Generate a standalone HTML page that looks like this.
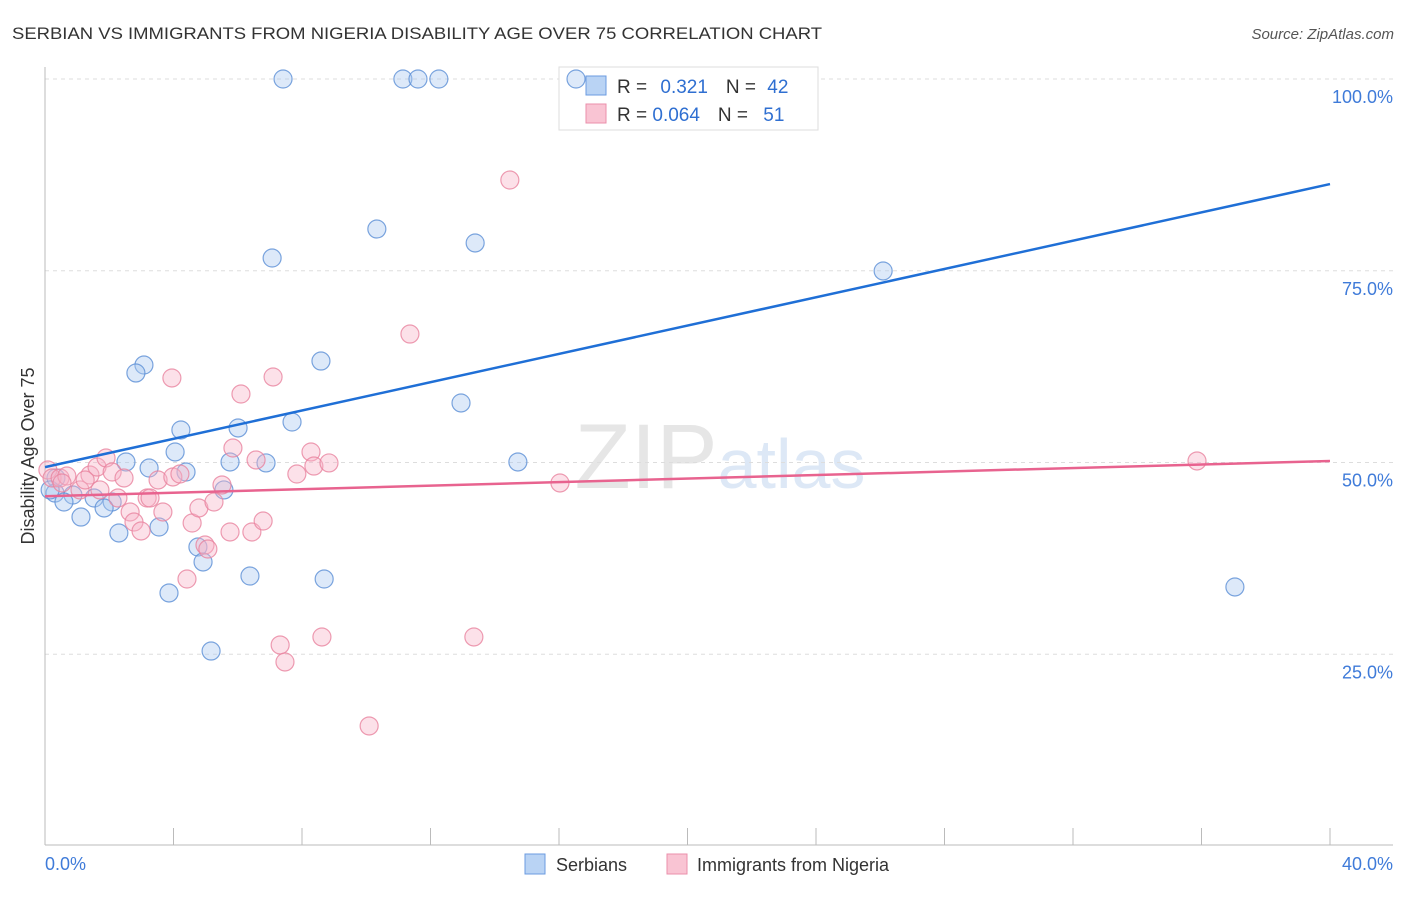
<!DOCTYPE html>
<html><head><meta charset="utf-8"><style>
body{margin:0;background:#fff;font-family:"Liberation Sans",sans-serif}
svg text{font-family:"Liberation Sans",sans-serif}
</style></head><body>
<svg id="c" width="1406" height="892">
<text x="12" y="39" font-size="17" fill="#333" textLength="810" lengthAdjust="spacingAndGlyphs">SERBIAN VS IMMIGRANTS FROM NIGERIA DISABILITY AGE OVER 75 CORRELATION CHART</text>
<text x="1394" y="39" font-size="15" fill="#555" text-anchor="end" font-style="italic">Source: ZipAtlas.com</text>
<text x="720" y="488" font-size="92" fill="#e6e6e6" text-anchor="middle" font-family="Liberation Serif">ZIP<tspan fill="#dde8f6" font-family="Liberation Sans" font-size="70">atlas</tspan></text>
<text transform="translate(34,456) rotate(-90)" font-size="18" fill="#333" text-anchor="middle">Disability Age Over 75</text>
<g id="grid"></g><g id="axes"></g>
<g>
<rect x="559" y="67" width="259" height="63" fill="#fff" stroke="#ddd"/>
<rect x="586" y="76" width="20" height="19" fill="#b9d3f4" stroke="#6b9be0"/>
<rect x="586" y="104" width="20" height="19" fill="#f9c4d3" stroke="#eb8fab"/>
<text x="617" y="93" font-size="19" fill="#333">R = <tspan fill="#2f6fd1" dx="8">0.321</tspan><tspan dx="18" fill="#333">N = </tspan><tspan fill="#2f6fd1" dx="6">42</tspan></text>
<text x="617" y="121" font-size="19" fill="#333">R = <tspan fill="#2f6fd1">0.064</tspan><tspan dx="18" fill="#333">N = </tspan><tspan fill="#2f6fd1" dx="10">51</tspan></text>
</g>
<g id="pts"></g><g id="lines"></g>
<g>
<rect x="525" y="854" width="20" height="20" fill="#b9d3f4" stroke="#6b9be0"/>
<text x="556" y="871" font-size="18" fill="#333">Serbians</text>
<rect x="667" y="854" width="20" height="20" fill="#f9c4d3" stroke="#eb8fab"/>
<text x="697" y="871" font-size="18" fill="#333">Immigrants from Nigeria</text>
</g>
</svg>
<script>
const yTicks=[25,50,75,100];
const yTickLabels=["25.0%","50.0%","75.0%","100.0%"];
const xTickLabels=["0.0%","40.0%"];
const blueX=[7.41,11.14,11.61,12.26,16.53,10.33,13.39,7.07,26.09,8.59,3.08,2.83,12.95,7.69,4.23,6.01,4.05,2.52,3.24,4.39,5.76,6.88,14.72,0.34,0.31,0.87,1.53,0.59,2.09,1.84,5.57,1.12,2.30,3.55,4.76,4.92,6.38,8.69,3.86,5.17,37.04,0.16];
const blueY=[100,100,100,100,100,80.44,78.62,76.66,74.97,63.23,62.71,61.67,57.76,55.28,54.24,54.50,51.37,50.07,49.28,48.76,50.07,49.94,50.07,47.98,46.02,45.76,45.37,44.85,44.85,44.07,46.42,42.89,40.81,41.59,38.98,37.03,35.20,34.81,32.99,25.42,33.77,46.42];
const pinkX=[0.09,0.22,0.47,0.68,1.40,1.62,1.90,2.09,2.46,1.71,2.27,3.18,3.27,2.65,2.77,2.99,3.67,3.52,3.98,4.20,4.58,4.79,5.26,5.51,4.98,5.07,5.76,6.44,6.79,6.10,5.85,6.57,7.84,8.28,8.37,8.84,3.95,7.10,4.42,7.32,7.47,8.62,13.35,10.09,11.36,14.47,16.03,35.86,0.53,1.09,1.25];
const pinkY=[49.02,47.98,47.98,48.24,48.37,49.41,50.59,48.76,47.98,46.42,45.37,45.37,45.37,43.55,42.24,41.07,43.55,47.72,48.11,48.50,42.11,44.07,44.85,47.07,39.24,38.72,40.94,40.94,42.37,58.93,51.89,50.33,48.50,51.37,49.54,49.94,61.02,61.15,34.81,26.21,23.99,27.25,27.25,15.65,66.75,86.83,47.33,50.20,47.33,46.42,47.72];
const blueTrend=[49.4,86.3];
const pinkTrend=[45.6,50.2];
const NS="http://www.w3.org/2000/svg";
const sx=v=>45+v/40*1285, sy=v=>846-v/100*767;
function mk(t,a,p){const e=document.createElementNS(NS,t);for(const k in a)e.setAttribute(k,a[k]);p.appendChild(e);return e;}
const grid=document.getElementById('grid'),axes=document.getElementById('axes'),pts=document.getElementById('pts'),lines=document.getElementById('lines');
yTicks.forEach((t,i)=>{
 const l=mk('line',{x1:45,x2:1393,y1:sy(t),y2:sy(t),stroke:'#ddd','stroke-dasharray':'4,4'},grid);
 
 
 const tx=mk('text',{x:1393,y:sy(t)+24,'font-size':18,fill:'#3f7bd9','text-anchor':'end'},axes);
 tx.textContent=yTickLabels[i];
 
 
});
const ax=mk('line',{x1:45,x2:1393,y1:845,y2:845,stroke:'#bbb'},axes);


const ay=mk('line',{x1:45,x2:45,y1:67,y2:845,stroke:'#bbb'},axes);


for(let i=0;i<=10;i++){const t=mk('line',{x1:sx(i*4),x2:sx(i*4),y1:828,y2:845,stroke:'#bbb'},axes);
 
 }
xTickLabels.forEach((s,i)=>{const t=mk('text',{x:i?1393:45,y:870,'font-size':18,fill:'#3f7bd9','text-anchor':i?'end':'start'},axes);t.textContent=s;
 
 });
function dots(X,Y,f,s,n){X.forEach((x,i)=>{const c=mk('circle',{cx:sx(x),cy:sy(Y[i]),r:9,fill:f,'fill-opacity':0.4,stroke:s,'stroke-opacity':0.8,'stroke-width':1.2},pts);
 
 });}
dots(blueX,blueY,'#a9c8f0','#5b8fd6','serbian-point');
dots(pinkX,pinkY,'#f7b3c7','#e8839f','nigeria-point');
const bl=mk('line',{x1:sx(0),y1:sy(blueTrend[0]),x2:sx(40),y2:sy(blueTrend[1]),stroke:'#1f6fd6','stroke-width':2.5},lines);


const pl=mk('line',{x1:sx(0),y1:sy(pinkTrend[0]),x2:sx(40),y2:sy(pinkTrend[1]),stroke:'#e8638f','stroke-width':2.5},lines);


</script>
</body></html>
